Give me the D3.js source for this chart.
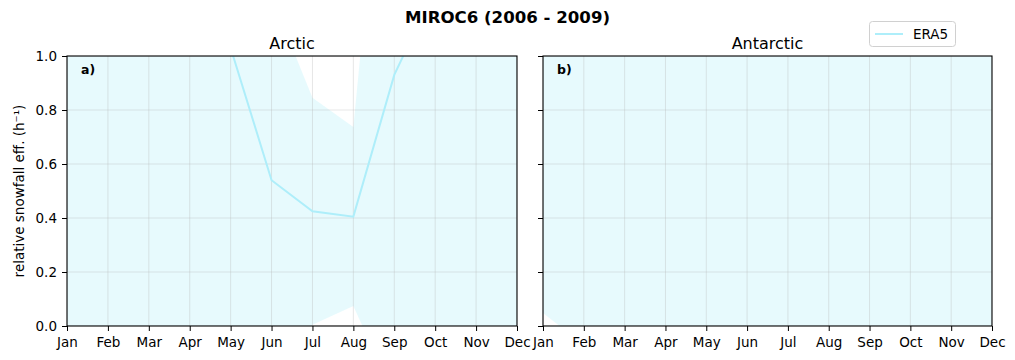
<!DOCTYPE html>
<html><head><meta charset="utf-8">
<script src="https://cdn.jsdelivr.net/npm/d3@7/dist/d3.min.js"></script>
<style>body{margin:0;background:#fff}svg{font-family:"DejaVu Sans",sans-serif}</style>
</head><body><svg id="c" width="1015" height="360"></svg>
<script>
const months = ["Jan","Feb","Mar","Apr","May","Jun","Jul","Aug","Sep","Oct","Nov","Dec"];
const yTicks = [0.0,0.2,0.4,0.6,0.8,1.0];
const arcticMean  = [1.6,1.7,1.8,1.6,1.03,0.54,0.425,0.405,0.93,1.25,1.5,1.6];
const arcticLower = [-0.5,-0.5,-0.5,-0.5,-0.4,-0.3,0.005,0.074,-0.26,-0.5,-0.5,-0.5];
const arcticUpper = [3.0,3.0,3.0,3.0,2.5,1.22,0.845,0.737,2.3,3.0,3.0,3.0];
const antarcticMean  = [1.8,1.8,1.8,1.8,1.8,1.8,1.8,1.8,1.8,1.8,1.8,1.8];
const antarcticLower = [0.048,-0.07,-0.3,-0.4,-0.4,-0.4,-0.4,-0.4,-0.4,-0.4,-0.3,-0.2];
const antarcticUpper = [3.0,3.0,3.0,3.0,3.0,3.0,3.0,3.0,3.0,3.0,3.0,3.0];

(function(){
const svg = d3.select("#c");
const lineColor = "#aeeefa";
const yTop = 56, yBot = 326;
const y = d3.scaleLinear().domain([0,1]).range([yBot, yTop]);

const panels = [
  {x0:67, x1:517, title:"Arctic", label:"a)", mean:arcticMean, lo:arcticLower, hi:arcticUpper, yLabels:true},
  {x0:543, x1:992, title:"Antarctic", label:"b)", mean:antarcticMean, lo:antarcticLower, hi:antarcticUpper, yLabels:false}
];

panels.forEach((p,i)=>{
  const x = d3.scalePoint().domain(months).range([p.x0, p.x1]);
  const g = svg.append("g");
  const clipId = "clip"+i;
  svg.append("defs").append("clipPath").attr("id",clipId)
    .append("rect").attr("x",p.x0).attr("y",yTop).attr("width",p.x1-p.x0).attr("height",yBot-yTop);
  const plot = g.append("g").attr("clip-path",`url(#${clipId})`);
  const area = d3.area().x((d,j)=>x(months[j])).y0((d,j)=>y(p.lo[j])).y1((d,j)=>y(p.hi[j]));
  plot.append("path").datum(p.mean).attr("d",area).attr("fill",lineColor).attr("fill-opacity",0.3);
  months.forEach(m=>plot.append("line").attr("x1",x(m)).attr("x2",x(m)).attr("y1",yTop).attr("y2",yBot)
    .attr("stroke","#b0b0b0").attr("stroke-opacity",0.4).attr("stroke-width",0.8));
  yTicks.forEach(t=>plot.append("line").attr("x1",p.x0).attr("x2",p.x1).attr("y1",y(t)).attr("y2",y(t))
    .attr("stroke","#b0b0b0").attr("stroke-opacity",0.4).attr("stroke-width",0.8));
  const line = d3.line().x((d,j)=>x(months[j])).y(d=>y(d));
  plot.append("path").datum(p.mean).attr("d",line).attr("fill","none").attr("stroke",lineColor).attr("stroke-width",2);

  const xAxis = d3.axisBottom(x).tickSize(5).tickPadding(6);
  const gx = g.append("g").attr("transform",`translate(0,${yBot})`).call(xAxis);
  const yAxis = d3.axisLeft(y).tickValues(yTicks).tickSize(5).tickPadding(5)
    .tickFormat(p.yLabels ? d3.format(".1f") : ()=>"");
  const gy = g.append("g").attr("transform",`translate(${p.x0},0)`).call(yAxis);
  [gx,gy].forEach(a=>{
    a.select(".domain").remove();
    a.selectAll("line").attr("stroke","#000").attr("stroke-width",1);
    a.selectAll("text").attr("fill","#000").style("font-size","13.5px").style("font-family","DejaVu Sans");
  });
  g.append("rect").attr("x",p.x0).attr("y",yTop).attr("width",p.x1-p.x0).attr("height",yBot-yTop)
    .attr("fill","none").attr("stroke","#000").attr("stroke-width",1.1);
  g.append("text").attr("x",(p.x0+p.x1)/2).attr("y",yTop-7).attr("text-anchor","middle")
    .style("font-size","16px").text(p.title);
  g.append("text").attr("x",p.x0+14).attr("y",yTop+18).style("font-size","12.5px").style("font-weight","bold").text(p.label);
});

svg.append("text").attr("x",507.5).attr("y",22.5).attr("text-anchor","middle")
  .style("font-size","16.6px").style("font-weight","bold").text("MIROC6 (2006 - 2009)");

svg.append("text").attr("transform","translate(24,191) rotate(-90)").attr("text-anchor","middle")
  .style("font-size","13.5px").text("relative snowfall eff. (h⁻¹)");

const lg = svg.append("g");
lg.append("rect").attr("x",869.5).attr("y",21.5).attr("width",86).attr("height",25).attr("rx",3)
  .attr("fill","#fff").attr("fill-opacity",0.8).attr("stroke","#d0d0d0");
lg.append("line").attr("x1",875).attr("x2",903).attr("y1",34).attr("y2",34).attr("stroke",lineColor).attr("stroke-width",2);
lg.append("text").attr("x",913).attr("y",39).style("font-size","13.5px").text("ERA5");
})();
</script></body></html>
